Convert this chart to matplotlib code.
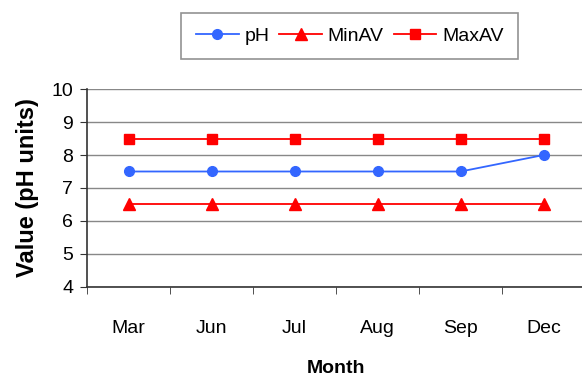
import matplotlib.pyplot as plt
import numpy as np

months = ['Mar', 'Jun', 'Jul', 'Aug', 'Sep', 'Dec']
ph = [7.5, 7.5, 7.5, 7.5, 7.5, 8.0]
min_av = [6.5, 6.5, 6.5, 6.5, 6.5, 6.5]
max_av = [8.5, 8.5, 8.5, 8.5, 8.5, 8.5]

plt.rcParams['font.family'] = ['Liberation Sans', 'DejaVu Sans']

fig = plt.figure(figsize=(5.82, 3.83), dpi=100)
ax = fig.add_axes([0.1495, 0.2507, 0.856, 0.5169])

x = np.arange(len(months))
ax.plot(x, ph, color='#3366ff', marker='o', markersize=7, lw=1.3, label='pH')
ax.plot(x, min_av, color='#ff0000', marker='^', markersize=8, lw=1.3, label='MinAV')
ax.plot(x, max_av, color='#ff0000', marker='s', markersize=7, lw=1.3, label='MaxAV')

ax.set_xlim(-0.5, len(months) - 0.5)
ax.set_ylim(4, 10)
ax.set_yticks(range(4, 11))
ax.set_xticks(x)
ax.set_xticklabels(months)
ax.set_xticks(np.arange(-0.5, len(months)), minor=True)
ax.tick_params(axis='x', which='major', length=0, pad=24, labelsize=14)
ax.tick_params(axis='x', which='minor', length=5, color='#333333')
ax.tick_params(axis='y', length=5, color='#333333', labelsize=14, pad=5)
ax.grid(axis='y', color='#888888', lw=1)
ax.set_axisbelow(True)

for s in ('top', 'right'):
    ax.spines[s].set_visible(False)
for s in ('left', 'bottom'):
    ax.spines[s].set_color('#333333')
    ax.spines[s].set_linewidth(1.2)

ax.set_ylabel('Value (pH units)', fontsize=17, fontweight='bold', labelpad=9)
ax.set_xlabel('Month', fontsize=14, fontweight='bold', labelpad=16)

leg = fig.legend(loc='center', bbox_to_anchor=(0.601, 0.906), ncol=3, frameon=True,
                 fancybox=False, edgecolor='#777777', fontsize=14,
                 handlelength=2.2, columnspacing=0.5, handletextpad=0.3,
                 borderpad=0.75, borderaxespad=0)
leg.get_frame().set_linewidth(1.2)

fig.savefig('out.png', dpi=100)
